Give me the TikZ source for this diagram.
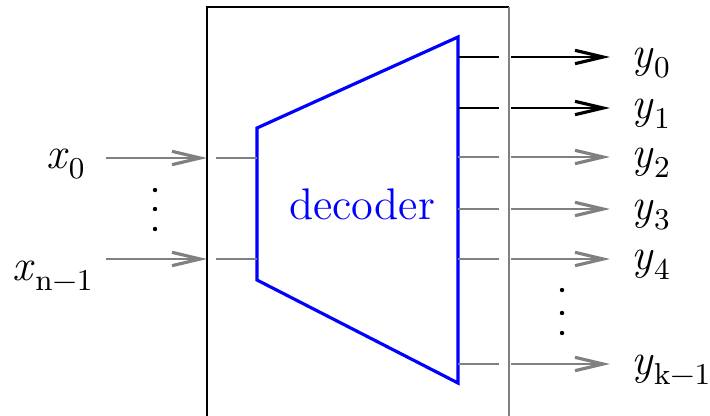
\documentclass[tikz,border=0pt]{standalone}
\usepackage{fontspec}
\usetikzlibrary{arrows.meta, positioning}
\colorlet{wiregray}{black!50}
\colorlet{decblue}{blue}
\newcommand{\sigl}[2]{\textit{#1}\raisebox{-3.1pt}{\fontsize{8.6}{10}\selectfont #2}}

\begin{document}
\begin{tikzpicture}[x=0.01cm, y=-0.01cm,
    >={Straight Barb[length=8pt, width=3.8pt, line width=0.9pt]},
    wire/.style={line width=0.6pt},
    lbl/.style={inner sep=0pt, font=\fontsize{12.6}{15}\selectfont}]
    \useasboundingbox (0,0) rectangle (710,415);

    % --- Outer box (its bottom edge runs off the page)
    \coordinate (boxl) at (207,7);
    \coordinate (boxr) at (509,7);
    \draw[line width=0.75pt] (207,440) -- (boxl) -- (boxr);
    \draw[wiregray, line width=0.75pt] (boxr) -- (509,440);

    % --- Decoder trapezoid
    \coordinate (tl) at (257,128);
    \coordinate (bl) at (257,280);
    \coordinate (tr) at (458,37);
    \coordinate (br) at (458,383);
    \draw[decblue, line width=0.9pt] (tl) -- (tr) -- (br) -- (bl) -- cycle;
    \node[lbl, text=decblue] (dec) at (362,204) {decoder};

    % --- Inputs
    \node[lbl, anchor=base east] (x0) at (85,168) {\sigl{x}{0}};
    \node[lbl, anchor=base east] (xn) at (93,280) {\sigl{x}{n−1}};
    \coordinate (in0) at (106,158);
    \coordinate (in1) at (106,259);
    \foreach \p in {in0, in1} {
        \draw[wire, wiregray, ->] (\p) -- (\p -| boxl);
        \draw[wire, wiregray, shorten <=0.09cm] (\p -| boxl) -- (\p -| tl);
    }
    \foreach \d in {190,209,229}
        \fill (155,\d) circle (2.2);

    % --- Outputs
    \foreach \i/\yy/\sub/\col in {0/57/0/black, 1/108/1/black, 2/157/2/wiregray,
                                  3/209/3/wiregray, 4/259/4/wiregray, k/364/k−1/wiregray} {
        \coordinate (o\i) at (458,\yy);
        \node[lbl, anchor=base west] (y\i) at (631,\yy+10) {\sigl{y}{\sub}};
        \draw[wire, \col, shorten >=0.1cm] (o\i) -- (o\i -| boxr);
        \draw[wire, \col, ->, shorten <=0.02cm, shorten >=0.21cm] (o\i -| boxr) -- (o\i -| y\i.west);
    }
    \foreach \d in {290,313,333}
        \fill (562,\d) circle (2.2);
\end{tikzpicture}
\end{document}
